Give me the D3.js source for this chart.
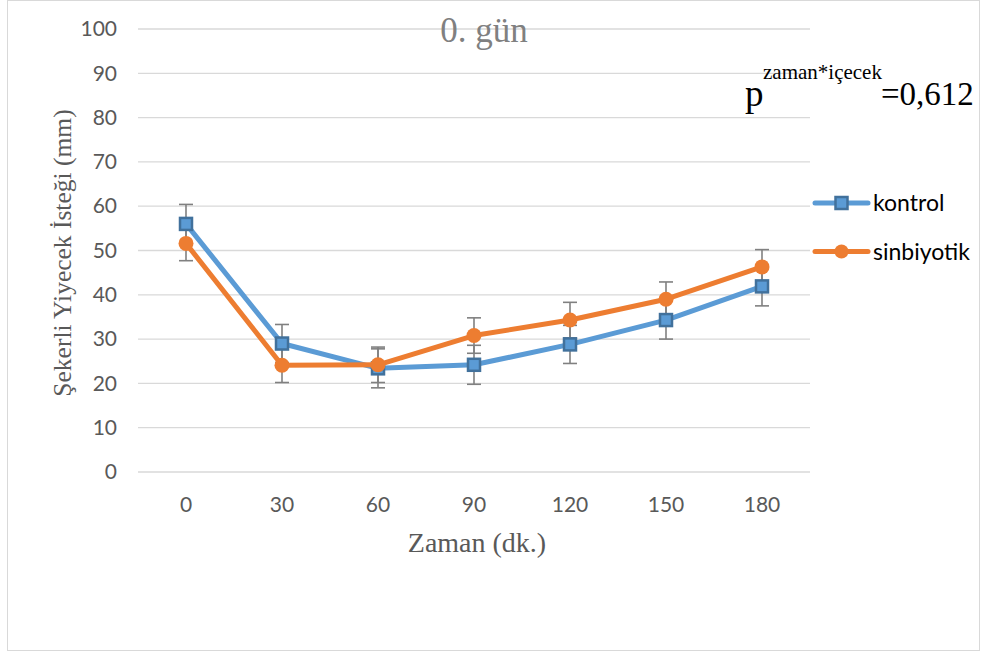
<!DOCTYPE html>
<html><head><meta charset="utf-8">
<script src="https://cdn.jsdelivr.net/npm/d3@7"></script>
<style>body{margin:0;background:#fff}svg{display:block}.serif{font-family:"Times New Roman","Liberation Serif","DejaVu Serif",serif}</style>
</head><body>
<svg id="c" width="984" height="655"></svg>
<script>
const categories = ["0","30","60","90","120","150","180"];
const kontrol = [56.0, 29.0, 23.4, 24.2, 28.8, 34.3, 41.9];
const kontrolSD = [4.4, 4.3, 4.4, 4.4, 4.3, 4.3, 4.4];
const sinbiyotik = [51.6, 24.1, 24.2, 30.8, 34.3, 39.0, 46.3];
const sinbiyotikSD = [3.9, 3.9, 4.0, 4.0, 4.0, 3.9, 3.9];
const yTicks = [0,10,20,30,40,50,60,70,80,90,100];
const seriesNames = ["kontrol","sinbiyotik"];

const svg = d3.select("#c");
svg.append("rect").attr("x",7.5).attr("y",0.5).attr("width",972).attr("height",650)
  .attr("fill","#fff").attr("stroke","#d9d9d9");

const x = d3.scaleBand().domain(categories).range([138,810]);
const y = d3.scaleLinear().domain([0,100]).range([472,29]);
const cx = d => x(d) + x.bandwidth()/2;

svg.append("g").selectAll("line").data(yTicks).join("line")
  .attr("x1",138).attr("x2",810).attr("y1",d=>y(d)).attr("y2",d=>y(d))
  .attr("stroke","#d9d9d9").attr("stroke-width",1.3);

const yAx = svg.append("g").attr("transform","translate(132,0)")
  .call(d3.axisLeft(y).tickValues(yTicks).tickSize(0).tickPadding(15));
yAx.select(".domain").remove();
yAx.selectAll("text").attr("font-family","Lato, 'Open Sans', sans-serif").attr("font-size",21).attr("fill","#595959");

const xAx = svg.append("g").attr("transform","translate(0,472)")
  .call(d3.axisBottom(x).tickSize(0).tickPadding(25));
xAx.select(".domain").remove();
xAx.selectAll("text").attr("font-family","Lato, 'Open Sans', sans-serif").attr("font-size",21).attr("fill","#595959");

svg.append("text").attr("class","serif").attr("x",484).attr("y",42).attr("text-anchor","middle")
  .attr("font-size",35).attr("fill","#808080").text("0. gün");
svg.append("text").attr("class","serif").attr("x",477).attr("y",552).attr("text-anchor","middle")
  .attr("font-size",28).attr("fill","#595959").text("Zaman (dk.)");
svg.append("text").attr("class","serif").attr("transform","translate(71,253) rotate(-90)").attr("text-anchor","middle")
  .attr("font-size",25.5).attr("fill","#595959").text("Şekerli Yiyecek İsteği (mm)");

const pt = svg.append("text").attr("class","serif").attr("fill","#000");
pt.append("tspan").attr("x",745).attr("y",106).attr("font-size",37).text("p");
pt.append("tspan").attr("x",763).attr("y",79).attr("font-size",21).text("zaman*içecek");
pt.append("tspan").attr("x",881).attr("y",105).attr("font-size",33).text("=0,612");

const series = [
  {name:seriesNames[0], vals:kontrol, sd:kontrolSD, color:"#5B9BD5", stroke:"#41719C", shape:"square"},
  {name:seriesNames[1], vals:sinbiyotik, sd:sinbiyotikSD, color:"#ED7D31", stroke:"#ED7D31", shape:"circle"}
];

series.forEach(s=>{
  const g = svg.append("g").attr("stroke","#808080").attr("stroke-width",1.6);
  categories.forEach((c,i)=>{
    const X = cx(c), top = y(s.vals[i]+s.sd[i]), bot = y(s.vals[i]-s.sd[i]);
    g.append("line").attr("x1",X).attr("x2",X).attr("y1",top).attr("y2",bot);
    g.append("line").attr("x1",X-7).attr("x2",X+7).attr("y1",top).attr("y2",top);
    g.append("line").attr("x1",X-7).attr("x2",X+7).attr("y1",bot).attr("y2",bot);
  });
});

const line = d3.line().x((d,i)=>cx(categories[i])).y(d=>y(d));
series.forEach(s=>{
  svg.append("path").datum(s.vals).attr("d",line).attr("fill","none")
    .attr("stroke",s.color).attr("stroke-width",5).attr("stroke-linejoin","round");
  const g = svg.append("g");
  s.vals.forEach((v,i)=>{
    if(s.shape==="square"){
      g.append("rect").attr("x",cx(categories[i])-6).attr("y",y(v)-6).attr("width",12).attr("height",12)
        .attr("fill",s.color).attr("stroke",s.stroke).attr("stroke-width",2.5);
    } else {
      g.append("circle").attr("cx",cx(categories[i])).attr("cy",y(v)).attr("r",7.5).attr("fill",s.color);
    }
  });
});

series.forEach((s,i)=>{
  const ly = 203 + i*48.5;
  svg.append("line").attr("x1",815).attr("x2",868).attr("y1",ly).attr("y2",ly)
    .attr("stroke",s.color).attr("stroke-width",5).attr("stroke-linecap","round");
  if(s.shape==="square"){
    svg.append("rect").attr("x",835.5).attr("y",ly-6).attr("width",12).attr("height",12)
      .attr("fill",s.color).attr("stroke",s.stroke).attr("stroke-width",2.5);
  } else {
    svg.append("circle").attr("cx",841.5).attr("cy",ly).attr("r",7).attr("fill",s.color);
  }
  svg.append("text").attr("x",873).attr("y",ly+8).attr("font-family","Lato, 'Open Sans', sans-serif")
    .attr("font-size",23).attr("fill","#000").text(s.name);
});
</script>
</body></html>
